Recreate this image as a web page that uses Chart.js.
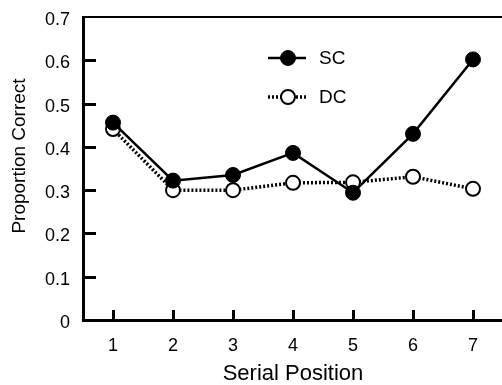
<!DOCTYPE html>
<html>
<head>
<meta charset="utf-8">
<script src="https://cdn.jsdelivr.net/npm/chart.js@4.4.0/dist/chart.umd.min.js"></script>
<style>
    html, body { margin: 0; padding: 0; background: #fff; overflow: hidden; }
    #wrap { width: 502px; height: 385px; overflow: hidden; }
    #box { width: 512px; height: 385px; position: relative; }
</style>
</head>
<body>
<div id="wrap"><div id="box"><canvas id="chart"></canvas></div></div>
<script>
    // Serial position data
    var positions = ['1', '2', '3', '4', '5', '6', '7'];
    var scValues = [0.456, 0.322, 0.335, 0.386, 0.294, 0.430, 0.602];
    var dcValues = [0.441, 0.300, 0.300, 0.317, 0.318, 0.331, 0.303];
    var yTickValues = [0, 0.1, 0.2, 0.3, 0.4, 0.5, 0.6, 0.7];

    var FONT = '"Liberation Sans", Arial, sans-serif';

    // ticks drawn inward from the axes, like the original figure
    var inwardTicks = {
        id: 'inwardTicks',
        beforeDatasetsDraw: function(chart) {
            var ctx = chart.ctx;
            var area = chart.chartArea;
            var xs = chart.scales.x;
            var ys = chart.scales.y;
            ctx.save();
            ctx.strokeStyle = '#000';
            ctx.lineWidth = 3;
            ys.ticks.forEach(function(t, i) {
                if (t.value === 0 || t.value === 0.7) return;
                var py = Math.round(ys.getPixelForTick(i)) + 0.5;
                ctx.beginPath();
                ctx.moveTo(area.left, py);
                ctx.lineTo(area.left + 13, py);
                ctx.stroke();
            });
            xs.ticks.forEach(function(t, i) {
                var px = Math.round(xs.getPixelForTick(i)) + 0.5;
                ctx.beginPath();
                ctx.moveTo(px, area.bottom);
                ctx.lineTo(px, area.bottom - 10);
                ctx.stroke();
            });
            ctx.restore();
        }
    };

    // legend inside the plot + y title, placed as in the figure
    var innerLegend = {
        id: 'innerLegend',
        afterDatasetsDraw: function(chart) {
            var ctx = chart.ctx;
            var rows = [58, 97];
            ctx.save();
            chart.data.datasets.forEach(function(ds, i) {
                var y = rows[i];
                ctx.strokeStyle = '#000';
                ctx.lineWidth = ds.borderWidth;
                ctx.setLineDash(ds.borderDash || []);
                ctx.beginPath();
                ctx.moveTo(268, y);
                ctx.lineTo(306, y);
                ctx.stroke();
                ctx.setLineDash([]);
                ctx.beginPath();
                ctx.arc(288, y, ds.pointRadius, 0, Math.PI * 2);
                ctx.fillStyle = ds.pointBackgroundColor;
                ctx.fill();
                ctx.lineWidth = ds.pointBorderWidth;
                ctx.stroke();
                ctx.fillStyle = '#000';
                ctx.font = '19px ' + FONT;
                ctx.textAlign = 'left';
                ctx.textBaseline = 'middle';
                ctx.fillText(ds.label, 319, y + 1);
            });

            // y axis title
            ctx.translate(20, 156);
            ctx.rotate(-Math.PI / 2);
            ctx.font = '19px ' + FONT;
            ctx.textAlign = 'center';
            ctx.textBaseline = 'middle';
            ctx.fillText('Proportion Correct', 0, 0);
            ctx.restore();
        }
    };

    new Chart(document.getElementById('chart'), {
        type: 'line',
        data: {
            labels: positions,
            datasets: [{
                label: 'SC',
                data: scValues,
                borderColor: '#000',
                borderWidth: 2.5,
                pointRadius: 7.5,
                pointBackgroundColor: '#000',
                pointBorderColor: '#000',
                pointBorderWidth: 1,
                tension: 0
            }, {
                label: 'DC',
                data: dcValues,
                borderColor: '#000',
                borderWidth: 3.5,
                borderDash: [2, 2],
                pointRadius: 7,
                pointBackgroundColor: '#fff',
                pointBorderColor: '#000',
                pointBorderWidth: 2,
                tension: 0
            }]
        },
        options: {
            responsive: true,
            maintainAspectRatio: false,
            animation: false,
            layout: {
                padding: { top: 17, right: 5, left: 0, bottom: 0 }
            },
            plugins: {
                legend: { display: false },
                tooltip: { enabled: false }
            },
            scales: {
                x: {
                    offset: true,
                    afterFit: function(scale) {
                        scale.height = 65;
                        scale.paddingLeft = 0;
                        scale.paddingRight = 0;
                    },
                    grid: { display: false, drawTicks: false },
                    border: { display: true, color: '#000', width: 3 },
                    ticks: {
                        color: '#000',
                        padding: 15,
                        font: { family: FONT, size: 18 }
                    },
                    title: {
                        display: true,
                        text: 'Serial Position',
                        color: '#000',
                        font: { family: FONT, size: 22 },
                        padding: { top: 0, bottom: -2 }
                    }
                },
                x2: {
                    position: 'top',
                    labels: positions,
                    type: 'category',
                    afterFit: function(scale) {
                        scale.height = 0;
                    },
                    grid: { display: false, drawTicks: false },
                    border: { display: true, color: '#000', width: 2 },
                    ticks: { display: false }
                },
                y: {
                    min: 0,
                    max: 0.7,
                    afterBuildTicks: function(scale) {
                        scale.ticks = yTickValues.map(function(v) { return { value: v }; });
                    },
                    afterFit: function(scale) {
                        scale.width = 83;
                        scale.paddingTop = 0;
                        scale.paddingBottom = 0;
                    },
                    grid: { display: false, drawTicks: false },
                    border: { display: true, color: '#000', width: 3 },
                    ticks: {
                        color: '#000',
                        padding: 13,
                        labelOffset: 3,
                        font: { family: FONT, size: 18 },
                        callback: function(v) { return String(Math.round(v * 10) / 10); }
                    },
                    title: { display: false }
                }
            }
        },
        plugins: [inwardTicks, innerLegend]
    });
</script>
</body>
</html>
